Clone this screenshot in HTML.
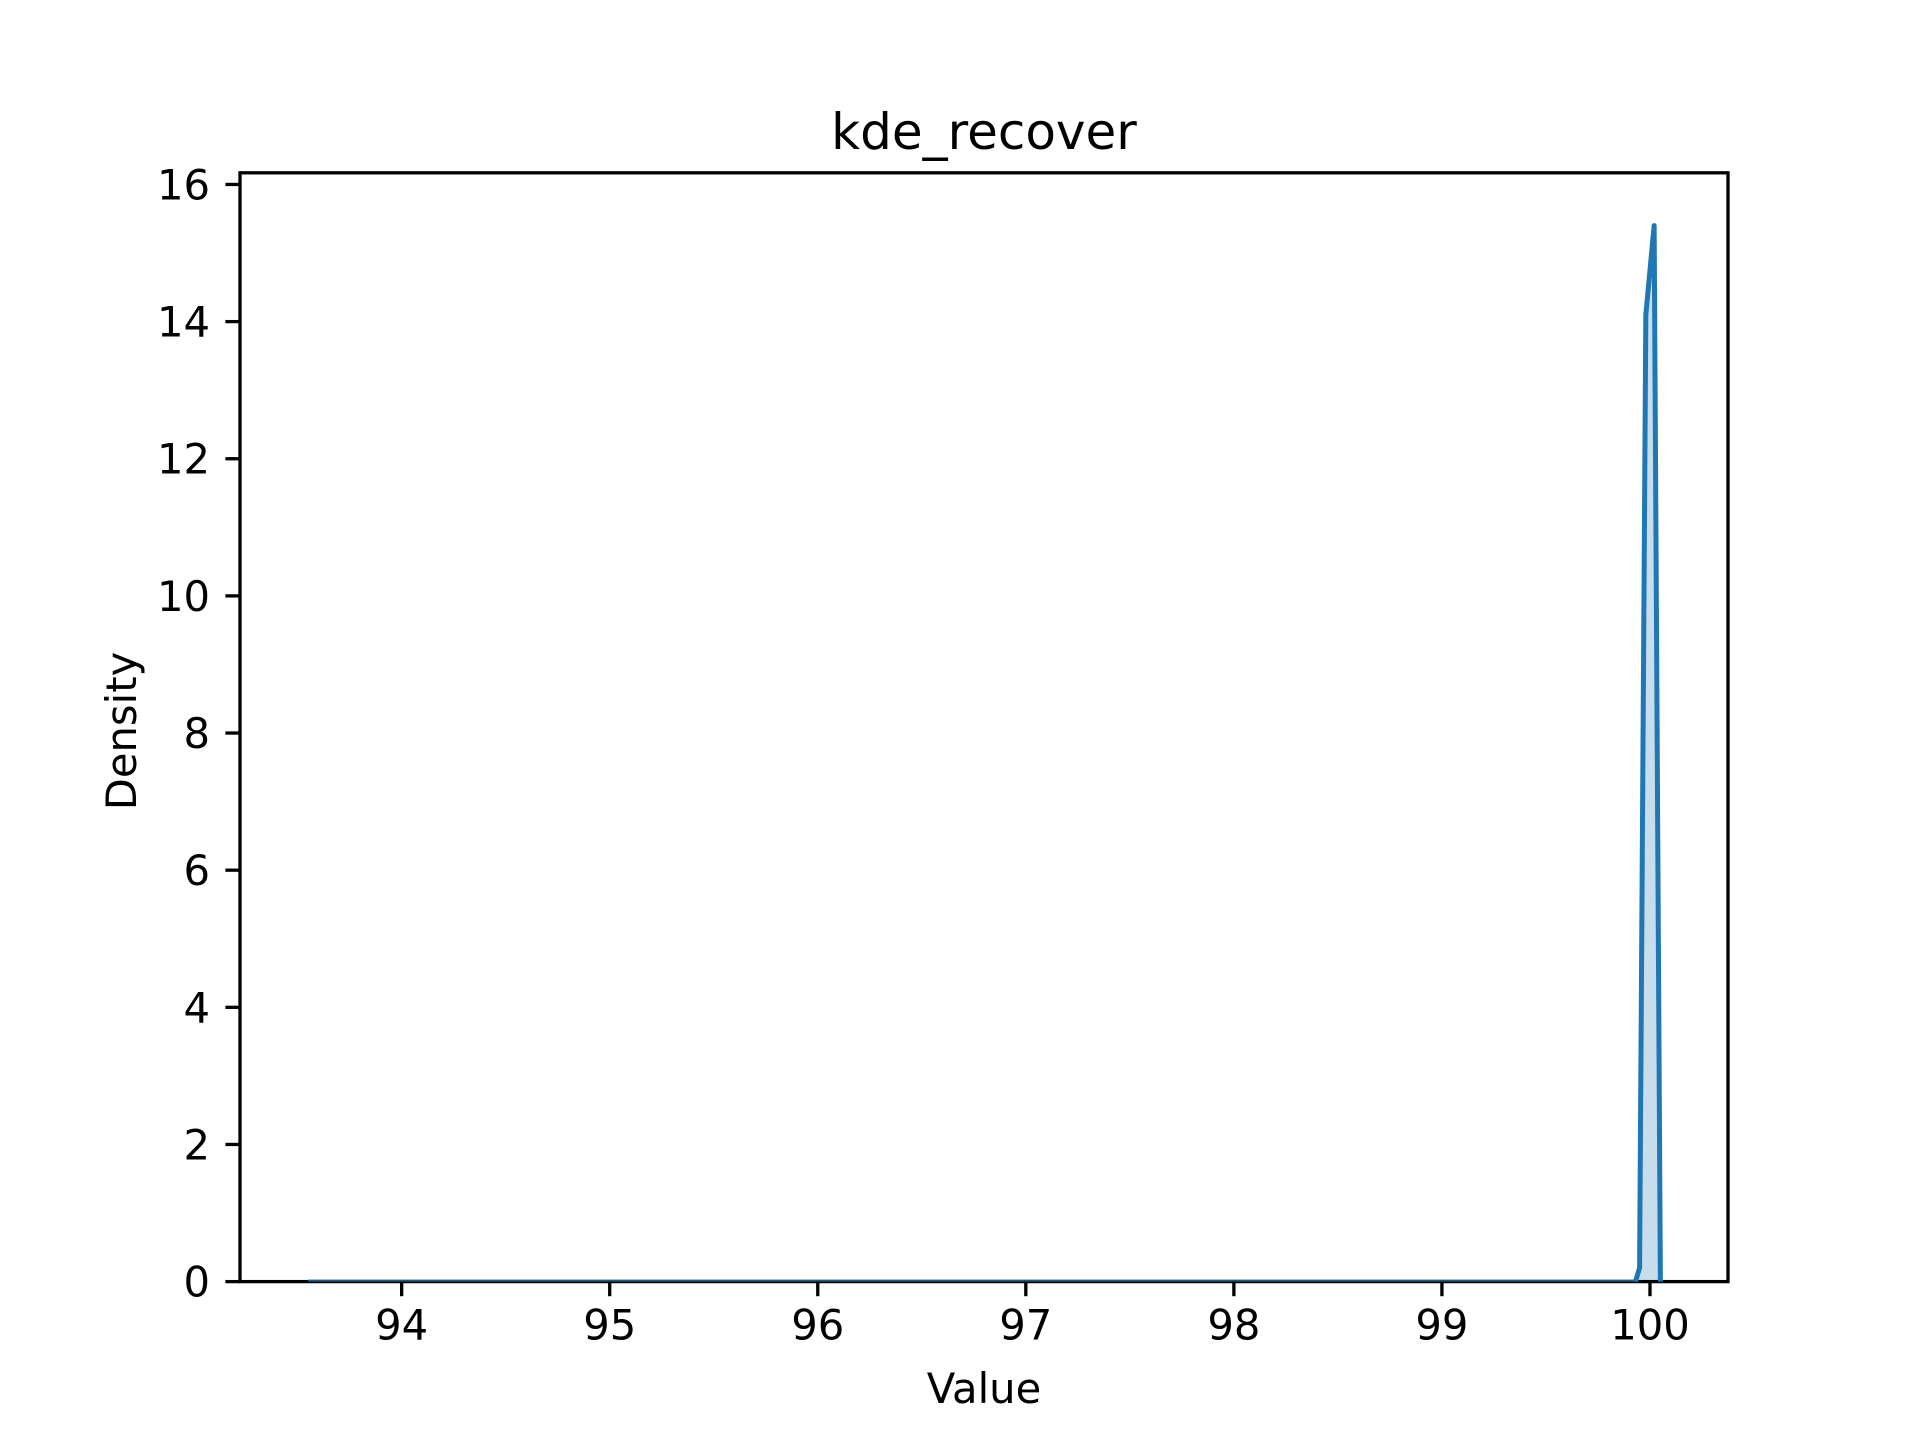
<!DOCTYPE html>
<html><head><meta charset="utf-8"><style>
html,body{margin:0;padding:0;background:#fff;}
svg{display:block;font-family:"DejaVu Sans","Liberation Sans",sans-serif;}
</style></head><body>
<svg id="chart" width="1920" height="1440" viewBox="0 0 1920 1440">
<text x="984" y="149" font-size="50" text-anchor="middle">kde_recover</text>
<g id="plot"></g>
<text x="984" y="1403" font-size="41.7" text-anchor="middle">Value</text>
<text transform="translate(136,731) rotate(-90)" font-size="41.7" text-anchor="middle">Density</text>
</svg>
<script>
const xs = [93.55, 99.88, 99.93, 99.95, 99.98, 100.02, 100.05];
const ys = [0, 0, 0, 0.2, 14.1, 15.4, 0];
const xTicks = [94, 95, 96, 97, 98, 99, 100];
const yTicks = [0, 2, 4, 6, 8, 10, 12, 14, 16];
const X0=240, X1=1728, Y0=1281.6, Y1=172.8;
const xmin=93.223, xmax=100.375, ymin=0, ymax=16.17;
const sx=v=>X0+(v-xmin)/(xmax-xmin)*(X1-X0);
const sy=v=>Y0-(v-ymin)/(ymax-ymin)*(Y0-Y1);
const NS="http://www.w3.org/2000/svg";
const g=document.getElementById('plot');
function mk(t,a){const e=document.createElementNS(NS,t);for(const k in a)e.setAttribute(k,a[k]);g.appendChild(e);return e;}
let pts=xs.map((x,i)=>sx(x).toFixed(2)+','+sy(ys[i]).toFixed(2));
const fill=mk('polygon',{points:pts.join(' ')+' '+sx(xs[xs.length-1])+','+sy(0)+' '+sx(xs[0])+','+sy(0),fill:'#1f77b4','fill-opacity':'0.25',stroke:'none'});


const frame=mk('rect',{x:X0,y:Y1,width:X1-X0,height:Y0-Y1,fill:'none',stroke:'#000','stroke-width':'3.3'});


const base=mk('line',{x1:sx(xs[0]),x2:sx(xs[2]),y1:sy(0)-1,y2:sy(0)-1,stroke:'#1f5a86','stroke-width':'2'});


const line=mk('polyline',{points:pts.slice(2).join(' '),fill:'none',stroke:'#1f77b4','stroke-width':'5','stroke-linejoin':'round'});


xTicks.forEach(t=>{
  const x=sx(t);
  const tk=mk('line',{x1:x,x2:x,y1:Y0,y2:Y0+14.6,stroke:'#000','stroke-width':'3.3'});
  
  
  const tx=mk('text',{x:x,y:Y0+58,'font-size':'41.7','text-anchor':'middle'});
  tx.textContent=t;
  
  
});
yTicks.forEach(t=>{
  const y=sy(t);
  const tk=mk('line',{x1:X0-14.6,x2:X0,y1:y,y2:y,stroke:'#000','stroke-width':'3.3'});
  
  
  const tx=mk('text',{x:X0-30,y:y+15,'font-size':'41.7','text-anchor':'end'});
  tx.textContent=t;
  
  
});
</script>
</body></html>
